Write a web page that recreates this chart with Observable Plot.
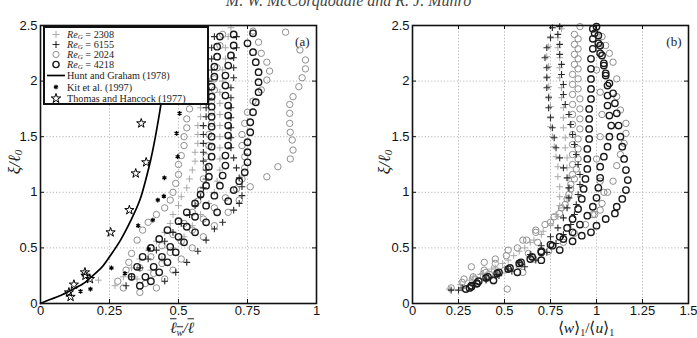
<!DOCTYPE html>
<html><head><meta charset="utf-8">
<script src="https://cdn.jsdelivr.net/npm/d3@7"></script>
<script src="https://cdn.jsdelivr.net/npm/@observablehq/plot@0.6"></script>
<style>
body{margin:0;background:#fff;}
#page{position:relative;width:697px;height:338px;overflow:hidden;background:#fff;}
.panel{position:absolute;top:0;}
.hdr{position:absolute;top:-8px;left:0;width:697px;text-align:center;font:italic 16px "Liberation Serif",serif;color:#444;}
.lab{position:absolute;font-family:"Liberation Serif",serif;color:#222;white-space:nowrap;transform:translate(-50%,-50%);line-height:1;}
.ylab{transform:translate(-50%,-50%) rotate(-90deg);}
.ov{text-decoration:overline;}
.sb{font-size:10px;vertical-align:-2.5px;line-height:0;}
#legend{position:absolute;left:43px;top:26px;width:162px;height:75px;border:2px solid #111;background:#fff;}
</style></head>
<body><div id="page">
<div class="hdr">M. W. McCorquodale and R. J. Munro</div>
<div id="left" class="panel" style="left:0"></div>
<div id="right" class="panel" style="left:348px"></div>
<div id="legend"></div>
<div class="lab ylab" style="left:14px;top:162px;font-size:17px;font-style:italic;">ξ/ℓ<span class="sb" style="font-size:11px">0</span></div>
<div class="lab ylab" style="left:384px;top:162px;font-size:17px;font-style:italic;">ξ/ℓ<span class="sb" style="font-size:11px">0</span></div>
<div class="lab" style="left:182px;top:328px;font-size:15.5px;font-style:italic;"><span class="ov">ℓ<span class="sb">w</span></span>/<span class="ov">ℓ</span></div>
<div class="lab" style="left:586px;top:328px;font-size:15.5px;">⟨<i>w</i>⟩<span class="sb">1</span>/⟨<i>u</i>⟩<span class="sb">1</span></div>
</div>
<script>
// ---------- tick values ----------
const yTicks = [0, 0.5, 1, 1.5, 2, 2.5];
const xTicksLeft = [0, 0.25, 0.5, 0.75, 1];
const xTicksRight = [0, 0.25, 0.5, 0.75, 1, 1.25, 1.5];
const panelLabels = ["(a)", "(b)"];
const legendLabels = ["2308", "6155", "2024", "4218", "Hunt and Graham (1978)", "Kit et al. (1997)", "Thomas and Hancock (1977)"];

// ---------- panel (a): lw/l vs xi/l0 ----------
const aRe2308 = [
 [[0.27,0.16],[0.30,0.24],[0.33,0.32],[0.36,0.40],[0.39,0.48],[0.42,0.56],[0.45,0.64],[0.47,0.72],[0.48,0.80],[0.50,0.88],[0.51,0.96],[0.53,1.04],[0.54,1.12],[0.55,1.20],[0.56,1.28],[0.56,1.36],[0.57,1.44],[0.57,1.52],[0.57,1.60],[0.58,1.68],[0.58,1.76],[0.58,1.84],[0.58,1.92],[0.59,2.00],[0.59,2.10],[0.60,2.20],[0.60,2.30],[0.60,2.40]],
 [[0.21,0.21],[0.35,0.22],[0.40,0.30],[0.44,0.40],[0.48,0.50],[0.52,0.60],[0.55,0.70],[0.58,0.80],[0.61,0.90],[0.63,1.00],[0.64,1.10],[0.65,1.20],[0.65,1.30],[0.65,1.40],[0.65,1.50],[0.65,1.60],[0.65,1.70],[0.65,1.80],[0.65,1.90],[0.66,2.00],[0.66,2.10],[0.67,2.20],[0.67,2.30],[0.68,2.40],[0.69,2.48]]
];
const aRe6155 = [
 [[0.45,0.20],[0.49,0.28],[0.53,0.37],[0.57,0.47],[0.60,0.57],[0.63,0.67],[0.66,0.73],[0.70,0.84],[0.72,0.90],[0.73,0.97],[0.73,1.05],[0.72,1.13],[0.71,1.22],[0.70,1.31],[0.69,1.40],[0.69,1.49],[0.69,1.58],[0.69,1.67],[0.69,1.76],[0.69,1.85],[0.69,1.94],[0.70,2.03],[0.70,2.12],[0.70,2.21],[0.71,2.30],[0.71,2.40]],
 [[0.31,0.16],[0.33,0.24],[0.36,0.32],[0.39,0.40],[0.42,0.48],[0.45,0.56],[0.48,0.64],[0.51,0.72],[0.54,0.80],[0.56,0.88],[0.58,0.96],[0.59,1.04],[0.60,1.12],[0.60,1.20],[0.59,1.28],[0.59,1.36],[0.59,1.44],[0.59,1.52],[0.59,1.60],[0.60,1.68],[0.60,1.76],[0.61,1.84],[0.61,1.92],[0.61,2.00],[0.62,2.10],[0.62,2.20],[0.62,2.30],[0.63,2.40]]
];
const aRe2024 = [
 [[0.28,0.20],[0.31,0.30],[0.32,0.37],[0.33,0.45],[0.35,0.57],[0.37,0.66],[0.39,0.73],[0.42,0.80],[0.45,0.86],[0.47,0.93],[0.48,1.00],[0.49,1.08],[0.50,1.16],[0.50,1.25],[0.51,1.33],[0.52,1.42],[0.52,1.50],[0.53,1.58],[0.53,1.66],[0.54,1.75],[0.55,1.85],[0.56,2.00],[0.57,2.20],[0.58,2.40]],
 [[0.42,0.14],[0.45,0.22],[0.48,0.30],[0.51,0.40],[0.55,0.50],[0.59,0.60],[0.63,0.70],[0.68,0.82],[0.72,0.93],[0.76,1.05],[0.82,1.14],[0.86,1.23],[0.905,1.30],[0.915,1.38],[0.912,1.47],[0.905,1.54],[0.903,1.62],[0.903,1.71],[0.903,1.79],[0.915,1.86],[0.936,1.95],[0.948,2.03],[0.96,2.11],[0.96,2.19],[0.94,2.28],[0.888,2.44]],
 [[0.36,0.10],[0.38,0.18],[0.41,0.27],[0.44,0.36],[0.47,0.46],[0.51,0.56],[0.55,0.66],[0.59,0.76],[0.63,0.86],[0.67,0.95],[0.71,1.03],[0.73,1.12],[0.74,1.22],[0.74,1.32],[0.73,1.42],[0.73,1.52],[0.74,1.62],[0.75,1.72],[0.77,1.82],[0.80,1.92],[0.82,2.01],[0.83,2.09],[0.82,2.17],[0.80,2.25],[0.79,2.35],[0.77,2.45]],
 [[0.30,0.14],[0.33,0.24],[0.36,0.32],[0.40,0.42],[0.44,0.52],[0.48,0.62],[0.52,0.72],[0.55,0.82],[0.57,0.92],[0.58,1.02],[0.59,1.12],[0.60,1.22],[0.60,1.32],[0.61,1.42],[0.61,1.52],[0.62,1.62],[0.62,1.72],[0.62,1.82],[0.63,1.92],[0.63,2.02],[0.64,2.12],[0.64,2.22],[0.65,2.32],[0.66,2.42]]
];
const aRe4218 = [
 [[0.40,0.20],[0.43,0.28],[0.46,0.37],[0.49,0.46],[0.52,0.55],[0.56,0.64],[0.60,0.73],[0.64,0.82],[0.68,0.92],[0.70,1.02],[0.72,1.10],[0.74,1.18],[0.75,1.27],[0.75,1.36],[0.75,1.45],[0.76,1.54],[0.76,1.63],[0.77,1.72],[0.78,1.81],[0.79,1.90],[0.79,1.99],[0.79,2.08],[0.78,2.17],[0.77,2.26],[0.75,2.34],[0.77,2.43]],
 [[0.36,0.16],[0.38,0.24],[0.41,0.33],[0.44,0.42],[0.47,0.51],[0.50,0.60],[0.53,0.69],[0.56,0.78],[0.60,0.88],[0.63,0.97],[0.65,1.06],[0.66,1.15],[0.67,1.24],[0.67,1.33],[0.68,1.42],[0.68,1.51],[0.68,1.60],[0.68,1.69],[0.68,1.78],[0.67,1.87],[0.67,1.96],[0.67,2.05],[0.68,2.14],[0.69,2.23],[0.70,2.32],[0.70,2.42]],
 [[0.33,0.24],[0.35,0.33],[0.37,0.42],[0.40,0.50],[0.43,0.58],[0.46,0.66],[0.50,0.74],[0.53,0.82],[0.56,0.90],[0.58,0.98],[0.60,1.06],[0.61,1.14],[0.61,1.23],[0.62,1.32],[0.62,1.41],[0.62,1.50],[0.62,1.59],[0.62,1.68],[0.62,1.77],[0.62,1.86],[0.62,1.95],[0.63,2.04],[0.63,2.13],[0.64,2.22],[0.64,2.31],[0.65,2.40]]
];
// reference data in panel (a)
const huntX = [0, 0.04, 0.08, 0.11, 0.15, 0.18, 0.22, 0.25, 0.29, 0.33, 0.36, 0.38, 0.40, 0.42, 0.44, 0.46];
const huntY = [0, 0.04, 0.08, 0.12, 0.17, 0.23, 0.32, 0.42, 0.57, 0.76, 0.93, 1.10, 1.30, 1.55, 1.85, 2.20];
const kitX = [0.145, 0.181, 0.257, 0.306, 0.354, 0.392, 0.407, 0.425, 0.447, 0.449, 0.497, 0.493, 0.504];
const kitY = [0.11, 0.13, 0.32, 0.27, 0.70, 0.49, 0.75, 0.93, 0.965, 1.13, 1.32, 1.53, 1.71];
const thomasX = [0.103, 0.109, 0.121, 0.161, 0.163, 0.179, 0.254, 0.322, 0.345, 0.383, 0.365];
const thomasY = [0.10, 0.06, 0.17, 0.28, 0.25, 0.22, 0.64, 0.84, 1.17, 1.27, 1.62];

// ---------- panel (b): <w>1/<u>1 vs xi/l0 ----------
const bRe2308 = [
 [[0.20,0.13],[0.26,0.17],[0.31,0.21],[0.37,0.26],[0.43,0.31],[0.49,0.36],[0.55,0.43],[0.61,0.50],[0.66,0.57],[0.71,0.65],[0.75,0.72],[0.78,0.80],[0.80,0.88],[0.80,0.96],[0.80,1.05],[0.79,1.14],[0.79,1.23],[0.78,1.32],[0.77,1.41],[0.76,1.50],[0.75,1.59],[0.75,1.68],[0.75,1.77],[0.74,1.86],[0.74,1.95],[0.73,2.04],[0.74,2.13],[0.73,2.22],[0.74,2.31],[0.75,2.40],[0.76,2.48]],
 [[0.33,0.24],[0.38,0.27],[0.45,0.32],[0.52,0.39],[0.58,0.47],[0.64,0.55],[0.70,0.62],[0.75,0.70],[0.79,0.78],[0.82,0.86],[0.84,0.95],[0.85,1.04],[0.85,1.13],[0.84,1.22],[0.84,1.31],[0.83,1.40],[0.83,1.49],[0.82,1.58],[0.82,1.67],[0.82,1.76],[0.81,1.85],[0.81,1.94],[0.80,2.03],[0.80,2.12],[0.80,2.21],[0.79,2.30],[0.79,2.39],[0.81,2.47]]
];
const bRe6155 = [
 [[0.21,0.12],[0.27,0.14],[0.34,0.18],[0.40,0.22],[0.46,0.26],[0.52,0.31],[0.58,0.37],[0.64,0.44],[0.70,0.52],[0.75,0.60],[0.79,0.68],[0.82,0.77],[0.84,0.86],[0.85,0.95],[0.85,1.04],[0.84,1.13],[0.82,1.22],[0.80,1.31],[0.78,1.40],[0.77,1.49],[0.76,1.58],[0.75,1.67],[0.74,1.76],[0.74,1.85],[0.73,1.94],[0.73,2.03],[0.73,2.12],[0.72,2.21],[0.73,2.30],[0.75,2.39],[0.76,2.48]],
 [[0.25,0.12],[0.33,0.16],[0.40,0.21],[0.47,0.25],[0.54,0.29],[0.61,0.33],[0.67,0.39],[0.73,0.46],[0.78,0.54],[0.82,0.62],[0.86,0.71],[0.88,0.80],[0.89,0.89],[0.90,0.98],[0.91,1.07],[0.91,1.16],[0.90,1.25],[0.89,1.34],[0.88,1.43],[0.87,1.52],[0.86,1.61],[0.85,1.70],[0.83,1.79],[0.82,1.88],[0.82,1.97],[0.81,2.06],[0.81,2.15],[0.80,2.24],[0.80,2.33],[0.79,2.42],[0.80,2.49]]
];
const bRe2024 = [
 [[0.21,0.14],[0.27,0.19],[0.33,0.24],[0.39,0.30],[0.45,0.36],[0.51,0.43],[0.57,0.50],[0.62,0.57],[0.67,0.64],[0.72,0.71],[0.77,0.78],[0.81,0.86],[0.84,0.94],[0.86,1.03],[0.88,1.12],[0.89,1.21],[0.90,1.30],[0.90,1.39],[0.90,1.48],[0.91,1.57],[0.91,1.66],[0.91,1.75],[0.91,1.84],[0.90,1.93],[0.90,2.02],[0.90,2.11],[0.90,2.20],[0.90,2.29],[0.90,2.38],[0.91,2.49]],
 [[0.28,0.22],[0.32,0.33],[0.39,0.37],[0.45,0.40],[0.52,0.48],[0.60,0.57],[0.67,0.66],[0.75,0.73],[0.80,0.81],[0.83,0.89],[0.85,0.98],[0.86,1.07],[0.87,1.16],[0.87,1.25],[0.87,1.34],[0.87,1.43],[0.87,1.52],[0.87,1.61],[0.87,1.70],[0.87,1.79],[0.87,1.88],[0.87,1.97],[0.87,2.06],[0.88,2.15],[0.88,2.24],[0.88,2.33],[0.88,2.42]],
 [[0.34,0.22],[0.42,0.26],[0.50,0.30],[0.58,0.34],[0.66,0.40],[0.74,0.47],[0.82,0.55],[0.88,0.63],[0.94,0.71],[0.99,0.80],[1.03,0.90],[1.06,1.00],[1.09,1.10],[1.11,1.24],[1.13,1.34],[1.15,1.44],[1.16,1.53],[1.16,1.62],[1.13,1.74],[1.11,1.86],[1.11,2.02],[1.09,2.17],[1.07,2.25],[1.05,2.32],[1.03,2.40],[1.00,2.48]],
 [[0.515,0.13],[0.40,0.28],[0.44,0.20],[0.60,0.28],[0.63,0.45],[0.68,0.55],[0.98,0.80],[1.02,0.84],[1.04,1.00],[1.02,1.10],[1.00,1.30],[1.02,1.50],[1.03,1.70],[1.02,1.90],[1.00,2.10],[1.01,2.30]]
];
const bRe4218 = [
 [[0.29,0.13],[0.32,0.16],[0.36,0.20],[0.41,0.24],[0.47,0.28],[0.53,0.32],[0.59,0.37],[0.65,0.42],[0.70,0.47],[0.75,0.53],[0.80,0.60],[0.84,0.68],[0.87,0.76],[0.90,0.85],[0.92,0.94],[0.93,1.03],[0.94,1.12],[0.95,1.21],[0.95,1.30],[0.95,1.39],[0.96,1.48],[0.96,1.57],[0.96,1.66],[0.96,1.75],[0.97,1.84],[0.97,1.93],[0.97,2.02],[0.97,2.11],[0.97,2.20],[0.98,2.29],[0.98,2.38],[0.98,2.47]],
 [[0.31,0.14],[0.35,0.18],[0.40,0.23],[0.46,0.27],[0.52,0.31],[0.58,0.36],[0.64,0.40],[0.70,0.46],[0.76,0.52],[0.82,0.58],[0.87,0.64],[0.91,0.71],[0.95,0.79],[0.98,0.87],[1.00,0.95],[1.01,1.04],[1.02,1.13],[1.02,1.23],[1.04,1.32],[1.06,1.41],[1.07,1.50],[1.08,1.60],[1.07,1.69],[1.06,1.78],[1.06,1.87],[1.06,1.96],[1.05,2.05],[1.04,2.14],[1.03,2.23],[1.02,2.32],[1.01,2.41],[1.00,2.49]],
 [[0.32,0.15],[0.35,0.18],[0.44,0.21],[0.57,0.28],[0.70,0.39],[0.80,0.48],[0.87,0.56],[0.92,0.61],[0.97,0.64],[1.00,0.70],[1.05,0.76],[1.10,0.81],[1.11,0.87],[1.14,0.94],[1.16,1.02],[1.17,1.11],[1.16,1.20],[1.15,1.30],[1.14,1.41],[1.13,1.50],[1.12,1.60],[1.11,1.71],[1.10,1.80],[1.09,1.89],[1.07,1.98],[1.05,2.07],[1.04,2.16],[1.02,2.25],[1.01,2.34],[0.99,2.43]]
];

// ---------- helpers ----------
const flat = profiles => profiles.flat().map(([x, y]) => ({x, y}));
const zip = (xs, ys) => xs.map((x, i) => ({x, y: ys[i]}));

const styles = {
  re2308: {symbol: "plus", stroke: "#a8a8a8", r: 2.3, strokeWidth: 1},
  re6155: {symbol: "plus", stroke: "#2a2a2a", r: 2.3, strokeWidth: 1.1},
  re2024: {symbol: "circle", stroke: "#8f8f8f", r: 3.2, strokeWidth: 1},
  re4218: {symbol: "circle", stroke: "#1a1a1a", r: 3.2, strokeWidth: 1.4}
};

function seriesMarks(s) {
  return [
    Plot.dot(flat(s.re2024), {x: "x", y: "y", fill: "none", ...styles.re2024}),
    Plot.dot(flat(s.re2308), {x: "x", y: "y", fill: "none", ...styles.re2308}),
    Plot.dot(flat(s.re6155), {x: "x", y: "y", fill: "none", ...styles.re6155}),
    Plot.dot(flat(s.re4218), {x: "x", y: "y", fill: "none", ...styles.re4218})
  ];
}

function frameMarks(xTicks, label) {
  const fmt = d => String(d);
  return {
    under: [
      Plot.gridX(xTicks.slice(1, -1), {stroke: "#b5b5b5", strokeOpacity: 1, strokeDasharray: "1.2,2"}),
      Plot.gridY(yTicks.slice(1, -1), {stroke: "#b5b5b5", strokeOpacity: 1, strokeDasharray: "1.2,2"})
    ],
    over: [
      Plot.axisX(xTicks, {anchor: "bottom", label: null, tickSize: 0, tickPadding: 2, tickFormat: fmt, fontSize: 13, fill: "#111"}),
      Plot.axisY(yTicks, {anchor: "left", label: null, tickSize: 0, tickPadding: 3, tickFormat: fmt, fontSize: 13, fill: "#111"}),
      Plot.tickX(xTicks.slice(1, -1), {x: d => d, stroke: "#111", insetTop: 274, strokeWidth: 1}),
      Plot.tickX(xTicks.slice(1, -1), {x: d => d, stroke: "#111", insetBottom: 274, strokeWidth: 1}),
      Plot.tickY(yTicks.slice(1, -1), {y: d => d, stroke: "#111", insetLeft: 272, strokeWidth: 1}),
      Plot.tickY(yTicks.slice(1, -1), {y: d => d, stroke: "#111", insetRight: 272, strokeWidth: 1}),
      Plot.frame({stroke: "#111", strokeWidth: 1.6}),
      Plot.text([label], {frameAnchor: "top-right", dx: -7, dy: 11, fontSize: 13, fontFamily: "Liberation Serif, serif", fill: "#222"})
    ]
  };
}

// ---------- panel (a) ----------
const fa = frameMarks(xTicksLeft, panelLabels[0]);
const plotA = Plot.plot({
  width: 348, height: 338,
  marginLeft: 40, marginRight: 32, marginTop: 25, marginBottom: 35,
  style: {fontFamily: "Liberation Sans, Arial, sans-serif", background: "transparent"},
  x: {domain: [0, 1], label: null},
  y: {domain: [0, 2.5], label: null},
  marks: [
    ...fa.under,
    ...seriesMarks({re2308: aRe2308, re6155: aRe6155, re2024: aRe2024, re4218: aRe4218}),
    Plot.line(zip(huntX, huntY), {x: "x", y: "y", stroke: "#000", strokeWidth: 1.7, curve: "natural"}),
    Plot.dot(zip(kitX, kitY), {x: "x", y: "y", symbol: "asterisk", stroke: "#000", fill: "#000", r: 2.2, strokeWidth: 1.3}),
    Plot.dot(zip(thomasX, thomasY), {x: "x", y: "y", symbol: "star", stroke: "#000", fill: "none", r: 2.9, strokeWidth: 1}),
    ...fa.over
  ]
});
document.getElementById("left").appendChild(plotA);

// ---------- panel (b) ----------
const fb = frameMarks(xTicksRight, panelLabels[1]);
const plotB = Plot.plot({
  width: 349, height: 338,
  marginLeft: 64, marginRight: 9, marginTop: 25, marginBottom: 35,
  style: {fontFamily: "Liberation Sans, Arial, sans-serif", background: "transparent"},
  x: {domain: [0, 1.5], label: null},
  y: {domain: [0, 2.5], label: null},
  marks: [
    ...fb.under,
    ...seriesMarks({re2308: bRe2308, re6155: bRe6155, re2024: bRe2024, re4218: bRe4218}),
    ...fb.over
  ]
});
document.getElementById("right").appendChild(plotB);

// ---------- legend (panel a) ----------
const lg = d3.select("#legend").append("svg").attr("width", 162).attr("height", 75)
  .style("font-family", "Liberation Serif, serif").style("font-size", "10.2px");
const rowsY = [6.5, 16.5, 26.5, 36.5, 47.5, 59, 70.5];
const legendSyms = [
  {sym: d3.symbolPlus, stroke: styles.re2308.stroke, fill: "none", sw: 1, size: 18},
  {sym: d3.symbolPlus, stroke: styles.re6155.stroke, fill: "none", sw: 1.1, size: 18},
  {sym: d3.symbolCircle, stroke: styles.re2024.stroke, fill: "none", sw: 1, size: 30},
  {sym: d3.symbolCircle, stroke: styles.re4218.stroke, fill: "none", sw: 1.4, size: 30},
  null,
  {sym: d3.symbolAsterisk, stroke: "#000", fill: "#000", sw: 1.3, size: 15},
  {sym: d3.symbolStar, stroke: "#000", fill: "none", sw: 1, size: 28}
];
legendSyms.forEach((s, i) => {
  const y = rowsY[i];
  if (s === null) {
    lg.append("line").attr("x1", 2).attr("x2", 20).attr("y1", y).attr("y2", y).attr("stroke", "#000").attr("stroke-width", 1.7);
  } else {
    lg.append("path").attr("transform", `translate(11,${y})`)
      .attr("d", d3.symbol(s.sym, s.size)())
      .attr("stroke", s.stroke).attr("fill", s.fill).attr("stroke-width", s.sw);
  }
  const t = lg.append("text").attr("x", 22).attr("y", y + 3.5).attr("fill", "#222");
  if (i < 4) {
    t.append("tspan").attr("font-style", "italic").text("Re");
    t.append("tspan").attr("font-style", "italic").attr("font-size", "7px").attr("dy", 1.2).text("G");
    t.append("tspan").attr("dy", -1.2).text(" = " + legendLabels[i]);
  } else {
    t.text(legendLabels[i]);
  }
});
</script>
</body></html>
